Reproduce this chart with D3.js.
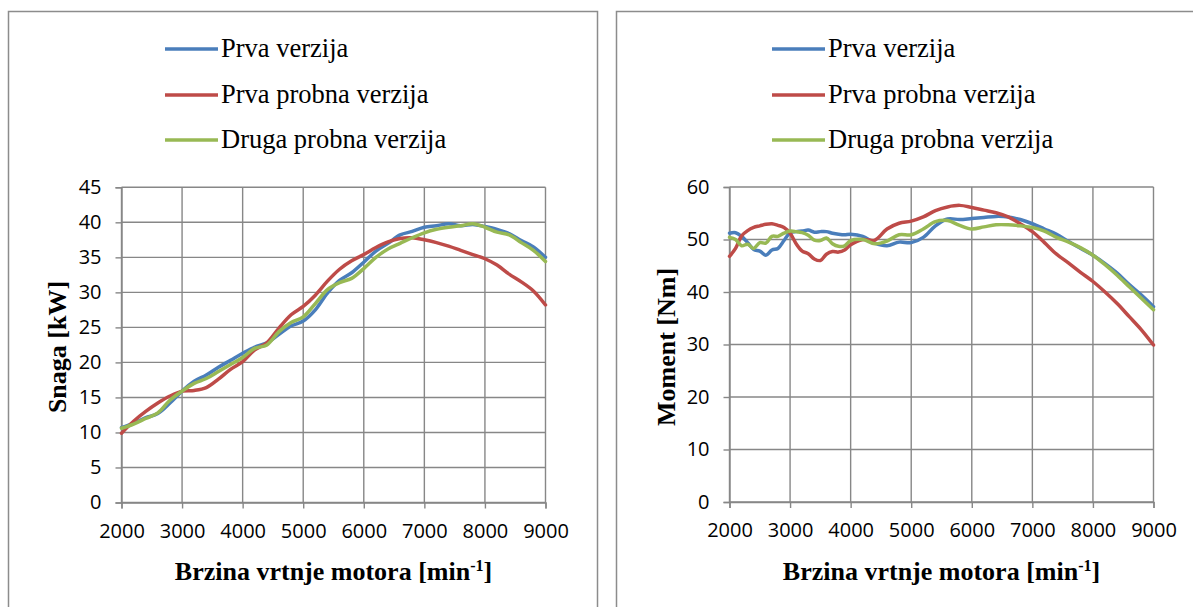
<!DOCTYPE html>
<html><head><meta charset="utf-8">
<script src="https://cdn.jsdelivr.net/npm/d3@7"></script>
<style>
html,body{margin:0;padding:0;background:#fff;}
svg{display:block;}
</style></head>
<body>
<svg id="chart" width="1193" height="607"></svg>
<script>
// ---------- DATA ----------
const seriesNames = ["Prva verzija", "Prva probna verzija", "Druga probna verzija"];
const xTicks = [2000, 3000, 4000, 5000, 6000, 7000, 8000, 9000];
const powerTicks = [0, 5, 10, 15, 20, 25, 30, 35, 40, 45];
const torqueTicks = [0, 10, 20, 30, 40, 50, 60];

const rpmPower = [2000,2200,2400,2600,2800,3000,3200,3400,3600,3800,4000,4200,4400,4600,4800,5000,5200,5400,5600,5800,6000,6200,6400,6600,6800,7000,7200,7400,7600,7800,8000,8200,8400,8600,8800,9000];
const powerPrva = [10.7,11.3,12.1,12.7,14.2,15.9,17.3,18.2,19.3,20.3,21.3,22.2,22.8,24.0,25.2,25.9,27.5,29.9,31.7,32.8,34.3,35.9,37.0,38.2,38.7,39.3,39.5,39.8,39.5,39.7,39.4,39.0,38.4,37.4,36.5,35.0];
const powerPrvaProbna = [9.9,11.6,13.0,14.2,15.2,15.9,16.0,16.4,17.6,19.0,20.1,21.8,22.8,24.9,26.8,28.0,29.6,31.6,33.3,34.5,35.4,36.4,37.2,37.7,37.8,37.5,37.1,36.6,36.0,35.4,34.8,33.9,32.6,31.5,30.2,28.2];
const powerDrugaProbna = [10.6,11.2,12.0,12.8,14.6,15.9,17.0,17.7,18.7,19.7,20.7,22.0,22.5,24.4,25.7,26.5,28.4,30.4,31.4,32.0,33.4,35.0,36.2,37.0,37.8,38.5,39.0,39.3,39.5,39.8,39.3,38.6,38.2,37.1,36.0,34.4];

const rpmTorque = [2000,2100,2200,2300,2400,2500,2600,2700,2800,2900,3000,3100,3200,3300,3400,3500,3600,3700,3800,3900,4000,4200,4400,4600,4800,5000,5200,5400,5600,5800,6000,6200,6400,6600,6800,7000,7200,7400,7600,7800,8000,8200,8400,8600,8800,9000];
const torquePrva = [51.2,51.3,50.6,49.4,48.1,47.8,47.0,48.0,48.3,49.8,51.3,51.5,51.6,51.8,51.4,51.5,51.5,51.2,51.0,50.9,51.0,50.6,49.3,48.8,49.5,49.4,50.4,52.6,53.9,53.8,54.0,54.2,54.4,54.3,53.8,53.0,52.0,51.0,49.6,48.3,47.0,45.4,43.6,41.4,39.4,37.2];
const torquePrvaProbna = [46.8,48.3,50.7,51.7,52.3,52.6,52.9,53.0,52.7,52.3,51.2,49.2,47.8,47.3,46.3,46.0,47.2,47.7,47.6,48.0,49.0,50.0,49.9,52.0,53.1,53.5,54.3,55.5,56.2,56.5,56.1,55.6,55.1,54.3,53.0,51.5,49.4,47.2,45.5,43.7,42.0,40.0,37.8,35.3,32.8,29.9];
const torqueDrugaProbna = [50.4,50.0,48.8,49.1,48.3,49.4,49.3,50.6,50.6,51.2,51.6,51.5,51.3,50.8,49.9,49.8,50.3,49.2,48.7,48.8,49.8,50.0,49.2,49.7,50.9,50.9,52.0,53.4,53.6,52.7,52.0,52.4,52.8,52.8,52.6,52.3,51.6,50.4,49.5,48.4,47.0,45.2,43.2,41.0,38.8,36.6];

const colors = ["#4A7EBB", "#BE4B48", "#98B954"];

// ---------- DRAW ----------
const svg = d3.select("#chart");
const gridColor = "#878787";
const serif = "'Liberation Serif', 'Times New Roman', serif";

function panel(opts) {
  const g = svg.append("g");
  g.append("rect").attr("x", opts.frame[0]).attr("y", opts.frame[1])
    .attr("width", opts.frame[2]).attr("height", opts.frame[3])
    .attr("fill", "#fff").attr("stroke", "#8c8c8c").attr("stroke-width", 1.5);

  const x = d3.scaleLinear().domain([2000, 9000]).range(opts.xr);
  const y = d3.scaleLinear().domain([0, opts.yMax]).range(opts.yr);

  g.append("g").selectAll("line").data(opts.yTicks).join("line")
    .attr("x1", opts.xr[0]).attr("x2", opts.xr[1])
    .attr("y1", d => y(d)).attr("y2", d => y(d))
    .attr("stroke", gridColor).attr("stroke-width", 1.4);
  g.append("g").selectAll("line").data(xTicks).join("line")
    .attr("x1", d => x(d)).attr("x2", d => x(d))
    .attr("y1", opts.yr[0]).attr("y2", opts.yr[1])
    .attr("stroke", gridColor).attr("stroke-width", 1.4);

  const yAxis = d3.axisLeft(y).tickValues(opts.yTicks).tickSize(6).tickPadding(14).tickFormat(d3.format("d"));
  const ya = g.append("g").attr("transform", `translate(${opts.xr[0]},0)`).call(yAxis);
  const xAxis = d3.axisBottom(x).tickValues(xTicks).tickSize(6).tickPadding(15).tickFormat(d3.format("d"));
  const xa = g.append("g").attr("transform", `translate(0,${opts.yr[0]})`).call(xAxis);
  [ya, xa].forEach(a => {
    a.select(".domain").attr("stroke", gridColor).attr("stroke-width", 1.4);
    a.selectAll(".tick line").attr("stroke", gridColor).attr("stroke-width", 1.4);
    a.selectAll("text").attr("font-family", "'Open Sans', sans-serif").attr("font-size", 20).attr("fill", "#000");
  });

  const line = d3.line().x(d => x(d[0])).y(d => y(d[1])).curve(d3.curveCatmullRom.alpha(0.5));
  opts.series.forEach((vals, i) => {
    const pts = opts.rpm.map((r, k) => [r, vals[k]]);
    g.append("path").datum(pts).attr("d", line).attr("fill", "none")
      .attr("stroke", colors[i]).attr("stroke-width", 3.5)
      .attr("stroke-linejoin", "round").attr("stroke-linecap", "round");
  });

  seriesNames.forEach((name, i) => {
    const ly = opts.legY[i];
    g.append("line").attr("x1", opts.legX).attr("x2", opts.legX + 53)
      .attr("y1", ly).attr("y2", ly).attr("stroke", colors[i]).attr("stroke-width", 3.5);
    g.append("text").attr("x", opts.legX + 56).attr("y", ly + 8)
      .attr("font-family", serif).attr("font-size", 26.5)
      .text(name);
  });

  const cx = (opts.xr[0] + opts.xr[1]) / 2;
  const xt = g.append("text").attr("x", cx).attr("y", 580).attr("text-anchor", "middle")
    .attr("font-family", serif).attr("font-size", 26).attr("font-weight", "bold");
  xt.append("tspan").text("Brzina vrtnje motora [min");
  xt.append("tspan").attr("font-size", 16).attr("dy", -9).text("-1");
  xt.append("tspan").attr("dy", 9).text("]");

  g.append("text").attr("transform", `translate(${opts.yTitleX},347) rotate(-90)`)
    .attr("text-anchor", "middle").attr("dy", "0.35em")
    .attr("font-family", serif).attr("font-size", 26)
    .attr("font-weight", "bold").text(opts.yTitle);
}

panel({
  frame: [8.5, 11.5, 589, 620],
  xr: [121.5, 545.5], yr: [502.5, 187.3], yMax: 45, yTicks: powerTicks,
  rpm: rpmPower, series: [powerPrva, powerPrvaProbna, powerDrugaProbna],
  legX: 165, legY: [49, 95, 140], yTitle: "Snaga [kW]", yTitleX: 57
});
panel({
  frame: [616.5, 11.5, 600, 620],
  xr: [729.5, 1153.5], yr: [502, 187], yMax: 60, yTicks: torqueTicks,
  rpm: rpmTorque, series: [torquePrva, torquePrvaProbna, torqueDrugaProbna],
  legX: 772, legY: [49, 95, 140], yTitle: "Moment [Nm]", yTitleX: 666
});
</script>
</body></html>
